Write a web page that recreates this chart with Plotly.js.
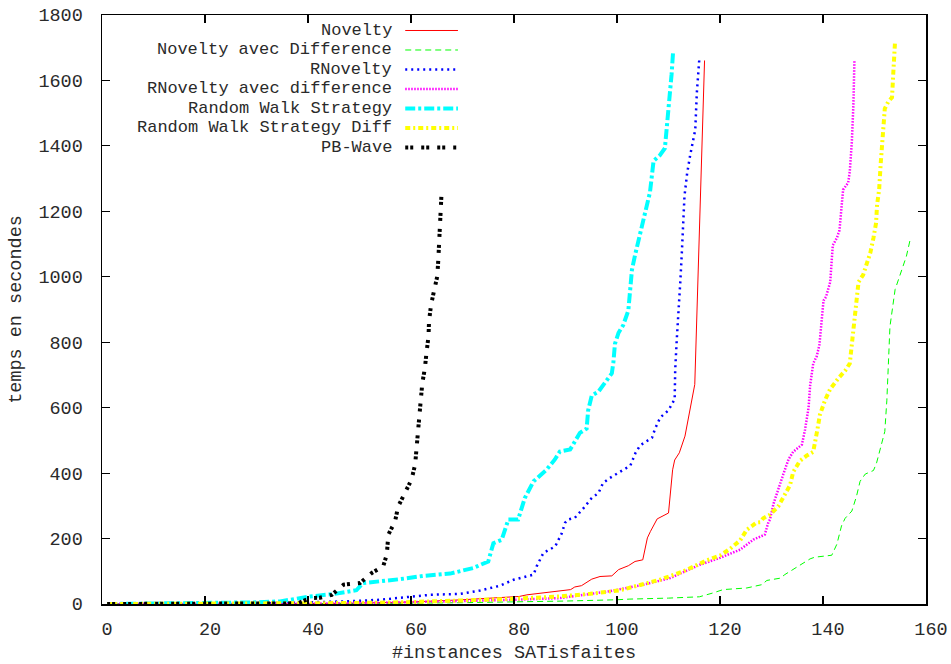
<!DOCTYPE html>
<html>
<head>
<meta charset="utf-8">
<script src="https://cdn.plot.ly/plotly-3.0.1.min.js"></script>
<style>
html,body{margin:0;padding:0;background:#fff;}
#chart{width:951px;height:664px;}
</style>
</head>
<body>
<div id="chart"></div>
<script>
// ---- data ----
const seriesNames = ["Novelty", "Novelty avec Difference", "RNovelty", "RNovelty avec difference",
  "Random Walk Strategy", "Random Walk Strategy Diff", "PB-Wave"];

const novX = [1,20,40,50,60,70,75,81,82.5,86.3,89,91,91.8,93.1,95.1,96.7,99,100.3,102.2,103.5,105,105.9,106.5,107.8,110,110.8,111.2,112.1,113.2,114.1,115.1,117];
const novY = [0,0,1,3,6,13,18,23,28,35,39,44,52,56,76,84,86,105,117,130,135,202,222,260,278,410,440,462,513,592,671,1661];

const novDiffX = [1,30,50,70,80,90,100,102.5,110,116,118.7,120.6,125.2,128.1,129.1,131.7,132.6,135.5,137.5,138.4,141.7,142.7,143.6,144.3,145.6,146.5,147.2,148.2,149.8,150.4,152,152.4,152.7,153,154,156.2,157];
const novDiffY = [0,0,1,4,6,9,13,15,18,22,34,44,49,59,72,79,90,120,138,143,149,183,239,262,284,329,375,397,408,431,527,623,735,848,961,1063,1119];

const rnovX = [1,20,34.6,47.5,54,59.8,63.7,69.5,73.4,77.3,79.9,83.8,84.4,85.7,88,89.3,89.9,90.5,91.8,93.5,95.1,96.4,97.3,98.6,100.6,102.6,103.6,104.5,106.8,107.4,108.4,110,111.2,111.3,111.6,112,112.3,112.6,112.8,113.1,113.6,114.2,115.2,115.5,116];
const rnovY = [0,0,3,8,13,21,28,31,41,56,74,90,115,156,176,217,248,258,263,293,324,339,370,385,405,423,462,485,508,536,570,592,626,716,807,897,987,1077,1168,1246,1314,1371,1450,1562,1669];

const rnovDiffX = [1,30,40,50,60,70,80,88.9,98.6,105.1,110.3,116.1,120,123.9,126.5,127.8,128.7,129.4,129.7,130.4,131.3,132.3,133.3,134.2,135.9,136.5,137.2,137.5,138.1,138.8,139.3,139.7,140.1,140.6,141.4,141.9,142.7,143.2,143.6,143.9,144.9,145.2,145.6,145.9,146.1];
const rnovDiffY = [0,0,1,3,5,9,13,18,39,59,79,120,141,166,197,205,212,250,258,307,352,397,442,465,487,532,600,668,735,758,792,860,927,939,984,1096,1119,1142,1220,1266,1288,1322,1412,1525,1660];

const rwsX = [1,10,20,30,34.6,40.4,45.2,49.4,50.7,54,57.9,62.4,67.6,72.1,75,76,77.6,78.9,80.8,82.1,83.8,86.3,87.9,88.9,90.9,92.8,94.1,94.4,95.1,96.4,98,99,99.3,99.6,100.3,101.2,102.2,102.5,102.9,103.5,104.5,105.4,106.4,107.1,108.3,109.3,110,110.6,110.9];
const rwsY = [0,1,3,5,8,23,31,42,64,69,76,86,93,110,130,186,196,258,258,324,375,410,441,466,472,523,536,592,637,649,682,705,739,795,829,852,897,942,1021,1066,1134,1190,1258,1354,1371,1393,1506,1619,1690];

const rwsDiffX = [1,30,40,50,60,70,80,88.9,94.8,100.6,105.8,108.3,112.9,117.4,120,121.9,123.9,125.2,127.1,127.8,128.4,129.4,129.7,131.3,132.3,133.6,134.2,135.5,136.8,138.1,138.9,139.4,140.4,141.4,143,144.3,145.2,145.6,146,146.6,146.9,147.8,148.3,149.2,149.8,150.3,150.5,150.9,151.2,151.6,152,152.7,153.4,153.7,154];
const rwsDiffY = [0,0,1,3,6,10,16,23,31,42,64,74,100,133,148,168,194,227,249,250,262,273,273,298,324,363,403,437,453,465,532,578,623,657,690,713,735,792,848,916,984,1006,1029,1074,1119,1164,1220,1266,1345,1435,1514,1536,1548,1638,1722];

const pbX = [1,10,20,30,38,40.4,42.3,44.6,46.9,50.1,52.4,54.6,55.3,55.6,56.9,57.5,58.8,60.1,60.8,61.1,61.4,61.6,61.9,62.2,62.7,63,63.4,63.5,63.9,64.6,65.1,65.3,65.4,65.6,65.7,65.9];
const pbY = [0,0,0,0,2,18,19,28,59,64,95,115,151,212,252,298,339,380,426,472,528,573,624,675,721,767,818,864,915,966,1001,1052,1098,1147,1195,1246];

const xTicks = [0,20,40,60,80,100,120,140,160];
const yTicks = [0,200,400,600,800,1000,1200,1400,1600,1800];
const xTitle = "#instances SATisfaites";
const yTitle = "temps en secondes";

// ---- styles ----
const styles = [
  {color:"#ff0000", width:1,   dash:"solid"},
  {color:"#00ff00", width:1,   dash:"6px,4px"},
  {color:"#0000ff", width:2.5, dash:"2px,4px"},
  {color:"#ff00ff", width:2.5, dash:"1.5px,1.5px"},
  {color:"#00ffff", width:4,   dash:"10px,3px,3px,3px"},
  {color:"#ffff00", width:4,   dash:"5px,3px,2px,3px"},
  {color:"#000000", width:4,   dash:"3px,2px,3px,8px"}
];
const xs = [novX, novDiffX, rnovX, rnovDiffX, rwsX, rwsDiffX, pbX];
const ys = [novY, novDiffY, rnovY, rnovDiffY, rwsY, rwsDiffY, pbY];

const FONT = "'Liberation Mono', 'Courier New', monospace";
const FS = 18.5;
const LFS = 17;
const TXT = "#2a2a2a";
const traces = seriesNames.map((n, i) => ({
  type: "scatter", mode: "lines", name: n,
  x: xs[i], y: ys[i],
  line: {color: styles[i].color, width: styles[i].width, dash: styles[i].dash},
  showlegend: false, hoverinfo: "skip"
}));

// legend (gnuplot style: text right-aligned, sample on its right)
const legTextX = 0.353, legLineX0 = 0.368, legLineX1 = 0.432;
const legY0 = 0.9737, legStep = 0.0331;
const annotations = seriesNames.map((n, i) => ({
  xref: "paper", yref: "paper", x: legTextX, y: legY0 - i * legStep,
  xanchor: "right", yanchor: "middle", text: n, showarrow: false,
  borderpad: 0,
  font: {family: FONT, size: LFS, color: TXT}
}));
const shapes = seriesNames.map((n, i) => ({
  type: "line", xref: "paper", yref: "paper",
  x0: legLineX0, x1: legLineX1, y0: legY0 - i * legStep, y1: legY0 - i * legStep,
  line: {color: styles[i].color, width: styles[i].width, dash: styles[i].dash}
}));

const axisCommon = {
  showgrid: false, zeroline: false, showline: true, linecolor: "#000", linewidth: 1.5,
  mirror: "ticks", ticks: "inside", ticklen: 8, tickwidth: 1.2, tickcolor: "#000",
  tickfont: {family: FONT, size: FS, color: TXT}
};

const layout = {
  width: 951, height: 664,
  margin: {l: 102, r: 25, t: 15, b: 60},
  paper_bgcolor: "#fff", plot_bgcolor: "#fff",
  showlegend: false,
  xaxis: Object.assign({}, axisCommon, {
    range: [0, 160], tickvals: xTicks, ticktext: xTicks.map(String),
    ticklabelstandoff: 7, ticklabelshift: 5,
    title: {text: xTitle, font: {family: FONT, size: FS, color: TXT}, standoff: 10}
  }),
  yaxis: Object.assign({}, axisCommon, {
    range: [0, 1800], tickvals: yTicks, ticktext: yTicks.map(String),
    ticklabelstandoff: 14,
    title: {text: yTitle, font: {family: FONT, size: FS, color: TXT}, standoff: 12}
  }),
  annotations: annotations,
  shapes: shapes
};

Plotly.newPlot("chart", traces, layout, {displayModeBar: false, staticPlot: true});
</script>
</body>
</html>
